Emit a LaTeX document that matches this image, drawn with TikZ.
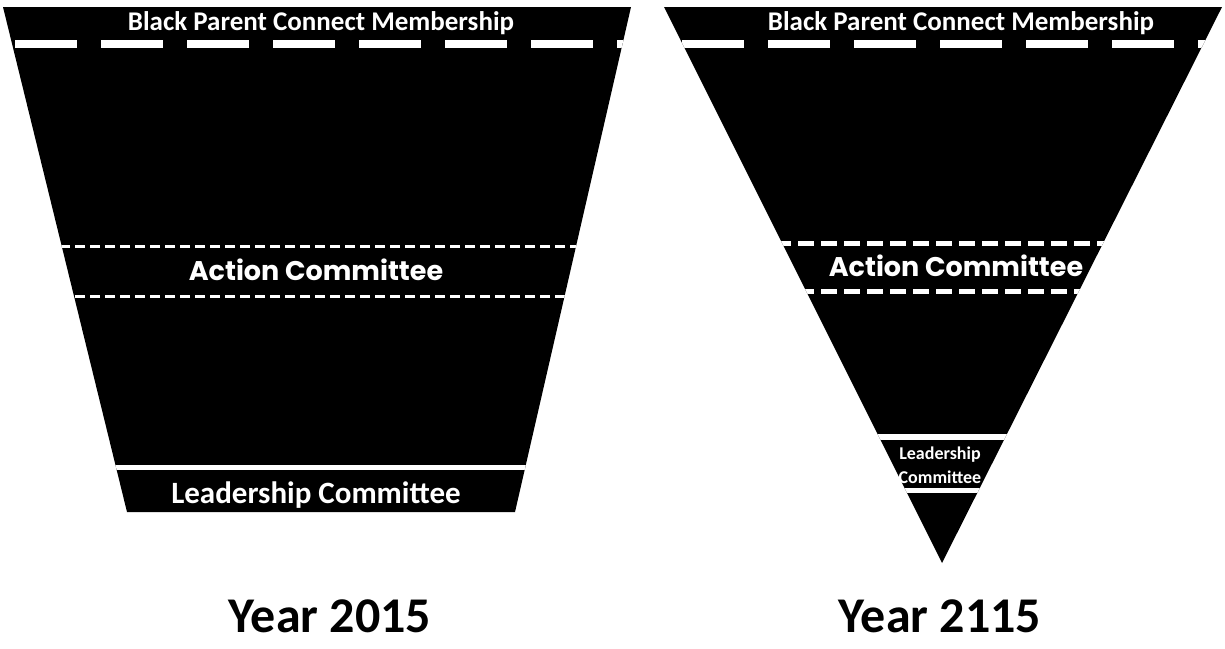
\documentclass[tikz,border=0pt]{standalone}
\usepackage{fontspec}
\setmainfont{Carlito}
\newfontfamily\gothicfont{Poppins}
\usetikzlibrary{positioning}
\definecolor{funnelblack}{RGB}{0, 0, 0}

\tikzset{
  bandtext/.style={text=white, inner sep=0pt, anchor=base},
  actiontext/.style={bandtext, font=\gothicfont\bfseries\fontsize{27}{27}\selectfont},
  yeartext/.style={anchor=base, inner sep=0pt, font=\bfseries\fontsize{50}{50}\selectfont},
  bigdash/.style={white, line width=8pt, dash pattern=on 62pt off 24pt},
}

\begin{document}
\begin{tikzpicture}[x=1pt, y=-1pt]
  \useasboundingbox (0,0) rectangle (1225,648);
  % Year 2015 funnel
  \fill[funnelblack] (3,7) -- (631,7) -- (515,512) -- (127,512) -- cycle;
  \begin{scope}
    \clip (3,7) -- (631,7) -- (515,512) -- (127,512) -- cycle;
    \draw[bigdash] (15,44) -- (640,44);
    \draw[white, line width=3pt, dash pattern=on 10pt off 5pt] (0,246) -- (640,246);
    \draw[white, line width=3pt, dash pattern=on 10pt off 5pt] (0,296) -- (640,296);
    \draw[white, line width=5pt] (0,467) -- (640,467);
  \end{scope}
  \node[bandtext, font=\bfseries\fontsize{27}{27}\selectfont] (membA) at (321,30) {Black Parent Connect Membership};
  \node[actiontext] (actionA) at (316,280) {Action Committee};
  \node[bandtext, font=\bfseries\fontsize{31}{31}\selectfont] (leadA) at (316,503) {Leadership Committee};
  \node[yeartext] (yearA) at (330,632) {Year 2015};

  % Year 2115 funnel
  \fill[funnelblack] (664,7) -- (1222,7) -- (942,563) -- cycle;
  \begin{scope}
    \clip (664,7) -- (1222,7) -- (942,563) -- cycle;
    \draw[bigdash] (682,44) -- (1225,44);
    \draw[white, line width=5pt, dash pattern=on 16pt off 7pt] (660,243) -- (1225,243);
    \draw[white, line width=5pt, dash pattern=on 16pt off 7pt] (660,291) -- (1225,291);
    \draw[white, line width=6pt] (660,437) -- (1225,437);
    \draw[white, line width=5pt] (660,490) -- (1225,490);
  \end{scope}
  \node[bandtext, font=\bfseries\fontsize{27}{27}\selectfont] (membB) at (961,30) {Black Parent Connect Membership};
  \node[actiontext] (actionB) at (956,276) {Action Committee};
  \node[bandtext, font=\bfseries\fontsize{18}{18}\selectfont] (leadB) at (940,459) {Leadership};
  \node[bandtext, font=\bfseries\fontsize{18}{18}\selectfont] (leadBb) at (940,483) {Committee};
  \node[yeartext] (yearB) at (940,632) {Year 2115};
\end{tikzpicture}
\end{document}
